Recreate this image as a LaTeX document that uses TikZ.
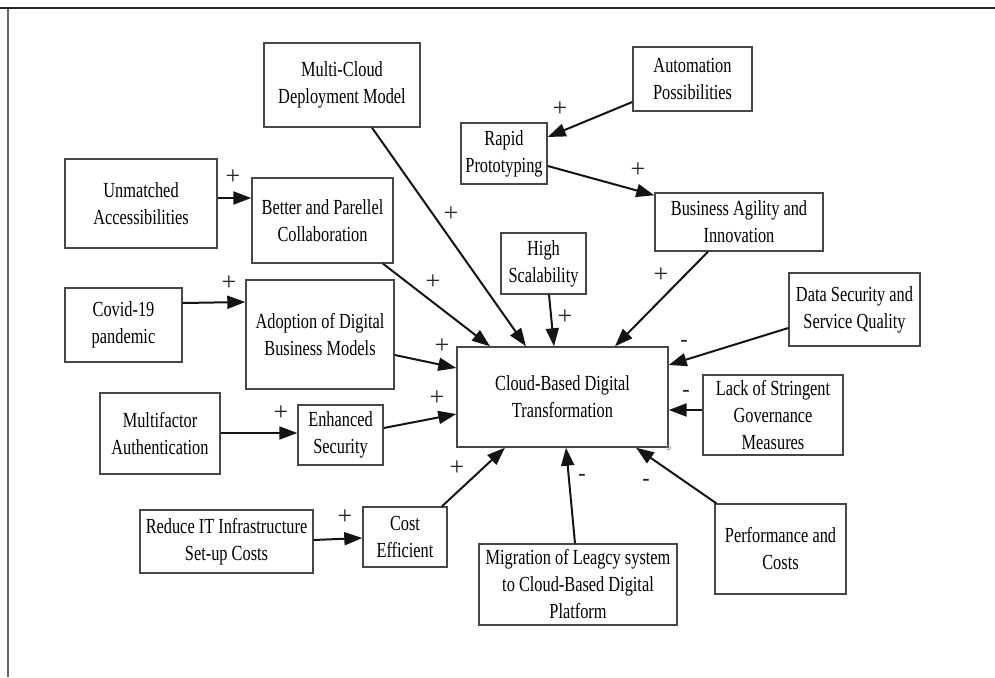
\documentclass[tikz,border=0pt]{standalone}
\usepackage{fontspec}
\setmainfont{Liberation Serif}[FakeStretch=0.76]
\newfontfamily\signfont{Liberation Serif}
\usetikzlibrary{arrows.meta}
\begin{document}
\begin{tikzpicture}[x=1pt,y=-1pt,
  box/.style={draw=black!72, line width=1.4pt, inner sep=0pt, align=center,
    font=\fontsize{21.5}{27}\selectfont, text=black},
  conn/.style={line width=2pt, draw=black!92, -{Triangle[length=18pt,width=13pt]}},
  sgn/.style={font=\signfont\fontsize{26}{26}\selectfont, inner sep=0pt, text=black!85},
  msgn/.style={font=\signfont\bfseries\fontsize{22}{22}\selectfont, inner sep=0pt, text=black!85}]
\useasboundingbox (0,0) rectangle (995,677);
% frame
\draw[line width=2pt, black!85] (0,8) -- (995,8);
\draw[line width=1.2pt, black!60] (8,9) -- (8,677);
% boxes
\node[box, minimum width=156pt, minimum height=84pt] (mc) at (342,85) {Multi-Cloud\\Deployment Model};
\node[box, minimum width=119pt, minimum height=64pt] (auto) at (692.5,79) {Automation\\Possibilities};
\node[box, minimum width=86pt, minimum height=61pt] (rapid) at (504,153.5) {Rapid\\Prototyping};
\node[box, minimum width=152pt, minimum height=89pt] (unm) at (141,203.5) {Unmatched\\Accessibilities};
\node[box, minimum width=141pt, minimum height=85pt] (better) at (322.5,220.5) {Better and Parellel\\Collaboration};
\node[box, minimum width=168pt, minimum height=58pt] (agil) at (739,222) {Business Agility and\\Innovation};
\node[box, minimum width=85pt, minimum height=61pt] (high) at (543.5,263.5) {High\\Scalability};
\node[box, minimum width=117pt, minimum height=74pt] (covid) at (123.5,325) {Covid-19\\pandemic};
\node[box, minimum width=148pt, minimum height=109pt] (adopt) at (320,334.5) {Adoption of Digital\\Business Models};
\node[box, minimum width=131pt, minimum height=73pt] (data) at (854.5,309.5) {Data Security and\\Service Quality};
\node[box, minimum width=211pt, minimum height=100pt] (cloud) at (562.5,397) {Cloud-Based Digital\\Transformation};
\node[box, minimum width=140pt, minimum height=80pt] (lack) at (773,415) {Lack of Stringent\\Governance\\Measures};
\node[box, minimum width=120pt, minimum height=81pt] (mfa) at (160,433.5) {Multifactor\\Authentication};
\node[box, minimum width=85pt, minimum height=60pt] (enh) at (340.5,435) {Enhanced\\Security};
\node[box, minimum width=173pt, minimum height=63pt] (reduce) at (226.5,541.5) {Reduce IT Infrastructure\\Set-up Costs};
\node[box, minimum width=84pt, minimum height=60pt] (cost) at (405,537) {Cost\\Efficient};
\node[box, minimum width=198pt, minimum height=81pt] (migr) at (578,584.5) {Migration of Leagcy system\\to Cloud-Based Digital\\Platform};
\node[box, minimum width=131pt, minimum height=90pt] (perf) at (780.5,549) {Performance and\\Costs};
\draw[black!45, line width=0.6pt] (cloud.south east) circle (2pt);
% connectors
\draw[conn] ([yshift=5.5pt]unm.east) -- ([yshift=22.5pt]better.west);
\draw[conn] ([xshift=30pt]mc.south) -- ([xshift=-36.5pt]cloud.north);
\draw[conn] ([xshift=60.5pt]better.south) -- ([xshift=-72.5pt]cloud.north);
\draw[conn] ([xshift=5.5pt]high.south) -- ([xshift=-8.5pt]cloud.north);
\draw[conn] ([xshift=-31pt]agil.south) -- ([xshift=52.5pt]cloud.north);
\draw[conn] ([yshift=-23pt]auto.west) -- ([yshift=16.5pt]rapid.east);
\draw[conn] ([yshift=-12.5pt]rapid.east) -- ([yshift=-3pt]agil.north west);
\draw[conn] ([yshift=22pt]covid.east) -- ([yshift=32.5pt]adopt.west);
\draw[conn] ([yshift=-20.5pt]adopt.east) -- ([yshift=29pt]cloud.west);
\draw[conn] ([yshift=0.5pt]mfa.east) -- ([yshift=2pt]enh.west);
\draw[conn] ([yshift=7pt]enh.east) -- ([yshift=-17pt]cloud.west);
\draw[conn] ([yshift=1.5pt]reduce.east) -- ([yshift=-1pt]cost.west);
\draw[conn] ([xshift=37pt]cost.north) -- ([xshift=-57.5pt]cloud.south);
\draw[conn] ([xshift=-3pt]migr.north) -- ([xshift=3.5pt]cloud.south);
\draw[conn] ([xshift=2pt]perf.north west) -- ([xshift=73.5pt]cloud.south);
\draw[conn] ([yshift=-18.5pt]data.west) -- ([yshift=32pt]cloud.east);
\draw[conn] ([yshift=5pt]lack.west) -- ([yshift=-13pt]cloud.east);
% signs
\node[sgn] (s1) at (233,177) {+};
\node[sgn] (s2) at (451,214) {+};
\node[sgn] (s3) at (433,282) {+};
\node[sgn] (s4) at (565,317) {+};
\node[sgn] (s5) at (661,275) {+};
\node[sgn] (s6) at (560,109) {+};
\node[sgn] (s7) at (638,170) {+};
\node[sgn] (s8) at (229,283) {+};
\node[sgn] (s9) at (442,346) {+};
\node[sgn] (s10) at (281,413) {+};
\node[sgn] (s11) at (437,398) {+};
\node[sgn] (s12) at (345,517) {+};
\node[sgn] (s13) at (457,468) {+};
\node[msgn] (s14) at (582,477) {-};
\node[msgn] (s15) at (646,482) {-};
\node[msgn] (s16) at (684,343) {-};
\node[msgn] (s17) at (686,393) {-};
\end{tikzpicture}
\end{document}
